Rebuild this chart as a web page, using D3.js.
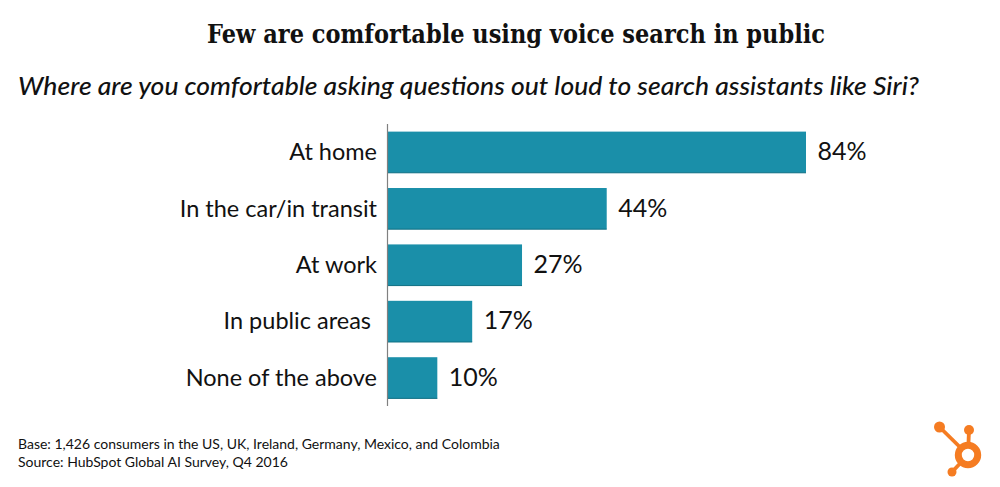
<!DOCTYPE html>
<html>
<head>
<meta charset="utf-8">
<script src="https://cdn.jsdelivr.net/npm/d3@7"></script>
<style>
  html, body { margin: 0; padding: 0; background: #fff; }
  svg { display: block; }
  text { fill: #111; font-family: Lato, sans-serif; }
</style>
</head>
<body>
<svg width="1000" height="487"></svg>
<script>
'use strict';

const categories = ["At home", "In the car/in transit", "At work", "In public areas ", "None of the above"];
const values = [84, 44, 27, 17, 10];
const title = "Few are comfortable using voice search in public";
const subtitle = "Where are you comfortable asking questions out loud to search assistants like Siri?";
const footnotes = [
  "Base: 1,426 consumers in the US, UK, Ireland, Germany, Mexico, and Colombia",
  "Source: HubSpot Global AI Survey, Q4 2016"
];

const svg = d3.select("svg");
const x = d3.scaleLinear().domain([0, 84]).range([387.5, 806]);
const y = d3.scaleBand().domain(categories).range([124, 406]).paddingInner(0.27).paddingOuter(0.135);

svg.append("text").text(title)
  .attr("x", 516).attr("y", 43).attr("text-anchor", "middle")
  .style("font-family", "'DejaVu Serif', serif").style("font-weight", "bold").style("font-size", "26px")
  .attr("textLength", 618).attr("lengthAdjust", "spacingAndGlyphs");

svg.append("text").text(subtitle)
  .attr("x", 18).attr("y", 95)
  .style("font-style", "italic").style("font-weight", 500).style("font-size", "24px")
  .attr("textLength", 901).attr("lengthAdjust", "spacingAndGlyphs");

svg.append("g").selectAll("rect").data(values).join("rect")
  .attr("x", x(0))
  .attr("y", (d, i) => y(categories[i]))
  .attr("width", d => x(d) - x(0))
  .attr("height", y.bandwidth())
  .attr("fill", "#1a8fa9");

// thin darker edge under each bar
svg.append("g").selectAll("line").data(values).join("line")
  .attr("x1", x(0))
  .attr("x2", d => x(d))
  .attr("y1", (d, i) => y(categories[i]) + y.bandwidth())
  .attr("y2", (d, i) => y(categories[i]) + y.bandwidth())
  .attr("stroke", "#0f6f83");

svg.append("line")
  .attr("x1", x(0)).attr("x2", x(0)).attr("y1", 124).attr("y2", 406)
  .attr("stroke", "#808080").attr("stroke-width", 1.2);

svg.append("g").selectAll("text").data(categories).join("text")
  .text(d => d)
  .attr("x", 377)
  .attr("y", d => y(d) + y.bandwidth() / 2 + 8)
  .attr("text-anchor", "end")
  .attr("xml:space", "preserve")
  .style("white-space", "pre")
  .style("font-size", "23.5px");

svg.append("g").selectAll("text").data(values).join("text")
  .text(d => d + "%")
  .attr("x", d => x(d) + 11.5)
  .attr("y", (d, i) => y(categories[i]) + y.bandwidth() / 2 + 8)
  .style("font-size", "25px");

svg.append("g").selectAll("text").data(footnotes).join("text")
  .text(d => d)
  .attr("x", 18)
  .attr("y", (d, i) => 449 + i * 18)
  .style("font-size", "14px");

// HubSpot sprocket
const logo = svg.append("g").attr("fill", "#f57c22").attr("stroke", "#f57c22");
const spokes = [[939.5, 427, 5.5], [969, 430, 5], [952, 472, 4.5]];
logo.selectAll("line").data(spokes).join("line")
  .attr("x1", 968).attr("y1", 455)
  .attr("x2", d => d[0]).attr("y2", d => d[1])
  .attr("stroke-width", 3.8);
logo.selectAll("circle.hub").data(spokes).join("circle")
  .attr("class", "hub")
  .attr("cx", d => d[0]).attr("cy", d => d[1]).attr("r", d => d[2]).attr("stroke", "none");
logo.append("circle").attr("cx", 968).attr("cy", 455).attr("r", 9.7)
  .attr("fill", "#fff").attr("stroke-width", 7);
</script>
</body>
</html>
